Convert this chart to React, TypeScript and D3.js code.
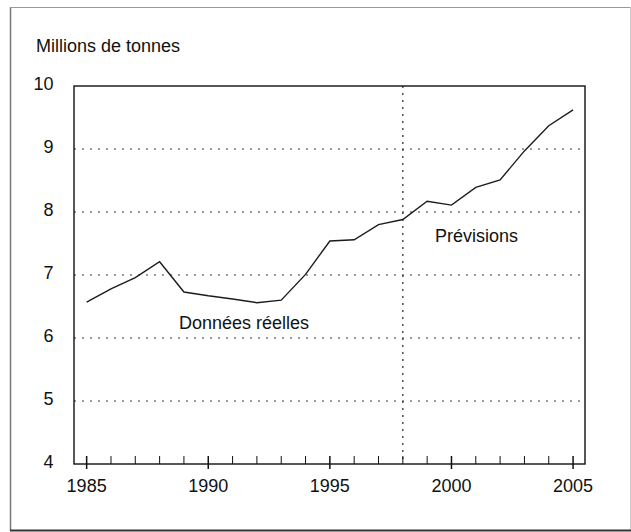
import React, { useEffect, useRef } from 'react';
import * as d3 from 'd3';

const years = [1985, 1986, 1987, 1988, 1989, 1990, 1991, 1992, 1993, 1994, 1995,
  1996, 1997, 1998, 1999, 2000, 2001, 2002, 2003, 2004, 2005];
const tonnes = [6.57, 6.78, 6.96, 7.21, 6.73, 6.67, 6.62, 6.56, 6.60, 7.01, 7.54,
  7.56, 7.80, 7.88, 8.17, 8.11, 8.39, 8.51, 8.97, 9.37, 9.62];
const yTicks = [4, 5, 6, 7, 8, 9, 10];
const xMajorTicks = [1985, 1990, 1995, 2000, 2005];
const forecastStart = 1998;
const unitLabel = 'Millions de tonnes';
const actualLabel = 'Données réelles';
const forecastLabel = 'Prévisions';

const App: React.FC = () => {
  const svgRef = useRef<SVGSVGElement>(null);

  useEffect(() => {
    if (!svgRef.current) return;
    const width = 631;
    const height = 532;
    const margin = { top: 86, right: 46, bottom: 68, left: 74 };
    const font = '"Liberation Sans", Arial, sans-serif';

    const root = d3.select(svgRef.current);
    root.selectAll('*').remove();
    root.attr('width', width).attr('height', height);

    // outer frame
    root.append('line').attr('x1', 10.5).attr('x2', 10.5).attr('y1', 7).attr('y2', 531)
      .attr('stroke', '#777').attr('stroke-width', 1.5);
    root.append('line').attr('x1', 10).attr('x2', 631).attr('y1', 7.5).attr('y2', 7.5)
      .attr('stroke', '#999').attr('stroke-width', 1);
    root.append('line').attr('x1', 630.5).attr('x2', 630.5).attr('y1', 7).attr('y2', 531)
      .attr('stroke', '#ccc').attr('stroke-width', 1);
    root.append('line').attr('x1', 10).attr('x2', 631).attr('y1', 530.5).attr('y2', 530.5)
      .attr('stroke', '#333').attr('stroke-width', 2);

    const x = d3.scaleLinear()
      .domain([1984.48, 2005.49])
      .range([margin.left, width - margin.right]);
    const y = d3.scaleLinear()
      .domain([4, 10])
      .range([height - margin.bottom, margin.top]);

    const x0 = margin.left;
    const x1 = width - margin.right;
    const yb = height - margin.bottom;

    // horizontal dotted grid
    root.append('g').selectAll('line')
      .data(yTicks.filter(t => t > 4 && t < 10))
      .join('line')
      .attr('x1', x0).attr('x2', x1)
      .attr('y1', d => y(d)).attr('y2', d => y(d))
      .attr('stroke', '#777').attr('stroke-width', 1.4)
      .attr('stroke-dasharray', '2,6');

    // forecast separator
    root.append('line')
      .attr('x1', x(forecastStart)).attr('x2', x(forecastStart))
      .attr('y1', margin.top).attr('y2', yb)
      .attr('stroke', '#333').attr('stroke-width', 1.3)
      .attr('stroke-dasharray', '2,5');

    // y labels
    root.append('g').selectAll('text')
      .data(yTicks)
      .join('text')
      .attr('x', 53.5).attr('y', d => y(d) + 4)
      .attr('text-anchor', 'end')
      .attr('font-family', font).attr('font-size', 18).attr('fill', '#111')
      .text(d => d);

    // x ticks
    const minor = d3.range(1985, 2006);
    root.append('g').selectAll('line')
      .data(minor)
      .join('line')
      .attr('x1', d => x(d)).attr('x2', d => x(d))
      .attr('y1', d => yb - 8).attr('y2', d => xMajorTicks.includes(d) ? yb + 5 : yb)
      .attr('stroke', '#111').attr('stroke-width', d => xMajorTicks.includes(d) ? 1.5 : 1);

    root.append('g').selectAll('text')
      .data(xMajorTicks)
      .join('text')
      .attr('x', d => x(d)).attr('y', yb + 28)
      .attr('text-anchor', 'middle')
      .attr('font-family', font).attr('font-size', 18).attr('fill', '#111')
      .text(d => d);

    // plot frame
    root.append('rect')
      .attr('x', x0).attr('y', margin.top)
      .attr('width', x1 - x0).attr('height', yb - margin.top)
      .attr('fill', 'none').attr('stroke', '#111').attr('stroke-width', 1.4);

    // series
    const line = d3.line<number>()
      .x((_, i) => x(years[i]))
      .y(d => y(d));
    root.append('path')
      .datum(tonnes)
      .attr('d', line)
      .attr('fill', 'none')
      .attr('stroke', '#1e1a1e')
      .attr('stroke-width', 1.4);

    root.append('text')
      .attr('x', 36).attr('y', 52)
      .attr('font-family', font).attr('font-size', 18).attr('fill', '#111')
      .text(unitLabel);
    root.append('text')
      .attr('x', 179).attr('y', 329)
      .attr('font-family', font).attr('font-size', 18).attr('fill', '#111')
      .text(actualLabel);
    root.append('text')
      .attr('x', 435).attr('y', 242)
      .attr('font-family', font).attr('font-size', 18).attr('fill', '#111')
      .text(forecastLabel);
  }, []);

  return (
    <svg ref={svgRef} style={{ position: 'absolute', left: 0, top: 0, background: '#fff' }} />
  );
};

export default App;
